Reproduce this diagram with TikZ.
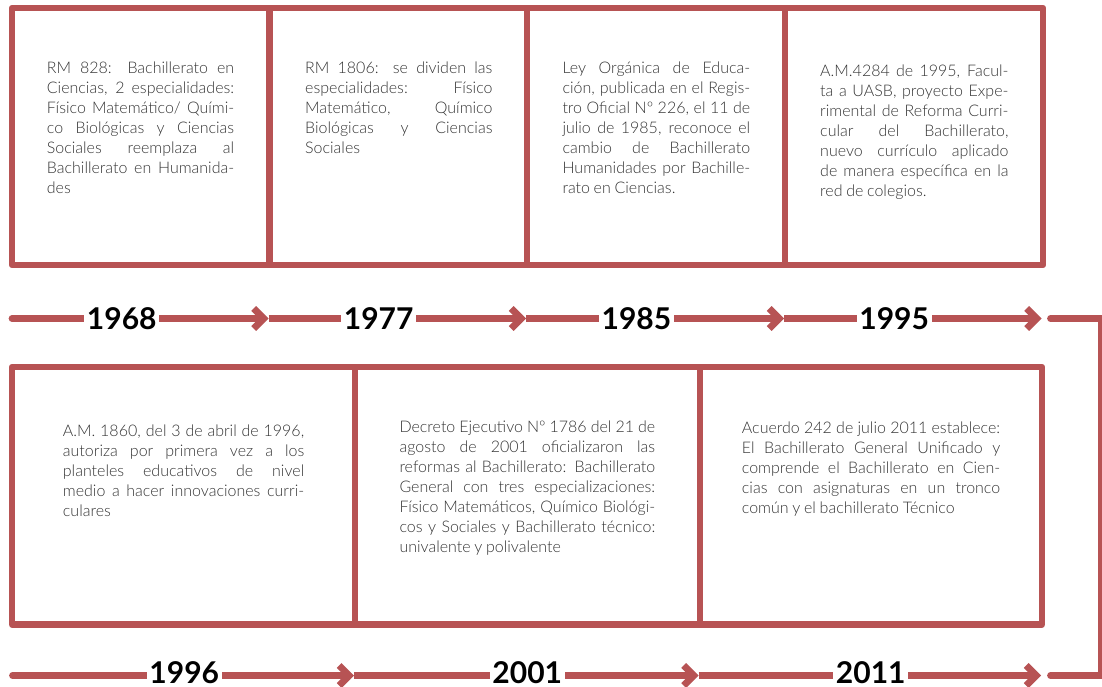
\documentclass[tikz,border=0pt]{standalone}
\usepackage{fontspec}
\setmainfont{Lato}
\newfontfamily\lightfont{Lato Light}[WordSpace=0.85]
\usetikzlibrary{arrows.meta}
\definecolor{tlred}{RGB}{183,83,84}
\definecolor{txtgray}{RGB}{52,52,52}
\newcommand\JL[2]{\makebox[#1][s]{#2}}
\newcommand\FS{\rule{0pt}{15pt}}
\begin{document}
\begin{tikzpicture}[x=1pt,y=-1pt,
  box/.style={draw=tlred,line width=6.5pt,line join=round,rectangle,inner sep=0pt,outer sep=0pt,minimum height=257pt},
  body/.style={anchor=north west,inner sep=0pt,align=left,text=txtgray,font=\lightfont\fontsize{16}{20}\selectfont},
  year/.style={fill=white,inner xsep=2.5pt,inner ysep=0pt,text=black,font=\bfseries\fontsize{30}{31}\selectfont},
  tl/.style={draw=tlred,line width=6.8pt},
  tip/.style={-{Straight Barb[length=10pt,width=20pt,sharp]}}
]
\useasboundingbox (0,0) rectangle (1102,687);
% top boxes
\node[box,minimum width=257.5pt] (b1) at (140.75,136.5) {};
\node[box,minimum width=257.5pt] (b2) at (398.25,136.5) {};
\node[box,minimum width=258pt] (b3) at (656,136.5) {};
\node[box,minimum width=258pt] (b4) at (914,136.5) {};
% bottom boxes
\node[box,minimum width=343pt,minimum height=257.5pt] (b5) at (183.5,495.75) {};
\node[box,minimum width=345pt,minimum height=257.5pt] (b6) at (527.5,495.75) {};
\node[box,minimum width=342pt,minimum height=257.5pt] (b7) at (871,495.75) {};
% texts
\node[body] (t1) at (46.7,58) {\FS\JL{187.3pt}{RM 828: Bachillerato en}\\
\JL{187.3pt}{Ciencias, 2 especialidades:}\\
\JL{187.3pt}{Físico Matemático/ Quími-}\\
\JL{187.3pt}{co Biológicas y Ciencias}\\
\JL{187.3pt}{Sociales reemplaza al}\\
\JL{187.3pt}{Bachillerato en Humanida-}\\
des};
\node[body] (t2) at (305,58) {\FS\JL{187.3pt}{RM 1806: se dividen las}\\
\JL{187.3pt}{especialidades: Físico}\\
\JL{187.3pt}{Matemático, Químico}\\
\JL{187.3pt}{Biológicas y Ciencias}\\
Sociales};
\node[body] (t3) at (562.3,58) {\FS\JL{187.7pt}{Ley Orgánica de Educa-}\\
\JL{187.7pt}{ción, publicada en el Regis-}\\
\JL{187.7pt}{tro Oficial Nº 226, el 11 de}\\
\JL{187.7pt}{julio de 1985, reconoce el}\\
\JL{187.7pt}{cambio de Bachillerato}\\
\JL{187.7pt}{Humanidades por Bachille-}\\
rato en Ciencias.};
\node[body] (t4) at (820,61) {\FS\JL{188.3pt}{A.M.4284 de 1995, Facul-}\\
\JL{188.3pt}{ta a UASB, proyecto Expe-}\\
\JL{188.3pt}{rimental de Reforma Curri-}\\
\JL{188.3pt}{cular del Bachillerato,}\\
\JL{188.3pt}{nuevo currículo aplicado}\\
\JL{188.3pt}{de manera específica en la}\\
red de colegios.};
\node[body] (t5) at (62.7,421) {\FS\JL{241.3pt}{A.M. 1860, del 3 de abril de 1996,}\\
\JL{241.3pt}{autoriza por primera vez a los}\\
\JL{241.3pt}{planteles educativos de nivel}\\
\JL{241.3pt}{medio a hacer innovaciones curri-}\\
culares};
\node[body] (t6) at (399.3,417) {\FS\JL{255.7pt}{Decreto Ejecutivo Nº 1786 del 21 de}\\
\JL{255.7pt}{agosto de 2001 oficializaron las}\\
\JL{255.7pt}{reformas al Bachillerato: Bachillerato}\\
\JL{255.7pt}{General con tres especializaciones:}\\
\JL{255.7pt}{Físico Matemáticos, Químico Biológi-}\\
\JL{255.7pt}{cos y Sociales y Bachillerato técnico:}\\
univalente y polivalente};
\node[body] (t7) at (741.7,418) {\FS\JL{258.3pt}{Acuerdo 242 de julio 2011 establece:}\\
\JL{258.3pt}{El Bachillerato General Unificado y}\\
\JL{258.3pt}{comprende el Bachillerato en Cien-}\\
\JL{258.3pt}{cias con asignaturas en un tronco}\\
común y el bachillerato Técnico};
% top timeline
\coordinate (a0) at (12,318.5);
\coordinate (a1) at (268.5,318.5);
\coordinate (a2) at (526,318.5);
\coordinate (a3) at (784,318.5);
\coordinate (a4) at (1041.5,318.5);
\draw[tl,tip,line cap=round] (a0) -- node[year,pos=0.428] (y1968) {1968} (a1);
\draw[tl,tip] (a1) -- node[year,pos=0.428] (y1977) {1977} (a2);
\draw[tl,tip] (a2) -- node[year,pos=0.428] (y1985) {1985} (a3);
\draw[tl,tip] (a3) -- node[year,pos=0.428] (y1995) {1995} (a4);
% bottom timeline
\coordinate (c0) at (12.5,675.5);
\coordinate (c1) at (354,675.5);
\coordinate (c2) at (698.5,675.5);
\coordinate (c3) at (1041,675.5);
\draw[tl,tip,line cap=round] (c0) -- node[year,pos=0.503,yshift=2.5pt] (y1996) {1996} (c1);
\draw[tl,tip] (c1) -- node[year,pos=0.503,yshift=2.5pt] (y2001) {2001} (c2);
\draw[tl,tip] (c2) -- node[year,pos=0.503,yshift=2.5pt] (y2011) {2011} (c3);
% connector from top row to bottom row
\coordinate (r1) at (1050.5,318.5);
\coordinate (r2) at (1050.5,675.5);
\draw[tl,line cap=round,line join=miter] (r1) -- ++(50.5,0) |- (r2);
\end{tikzpicture}
\end{document}
